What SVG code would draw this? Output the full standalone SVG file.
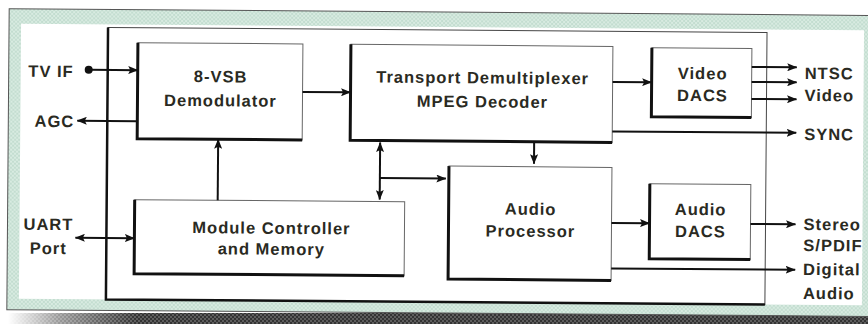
<svg xmlns="http://www.w3.org/2000/svg" width="868" height="324" viewBox="0 0 868 324">
  <defs>
    <pattern id="dither" width="4" height="4" patternUnits="userSpaceOnUse">
      <rect width="4" height="4" fill="#d8ebe1"/>
      <rect x="0" y="0" width="2" height="2" fill="#c3ddd0"/>
      <rect x="2" y="2" width="2" height="2" fill="#c3ddd0"/>
    </pattern>
    <pattern id="shadowdither" width="4" height="4" patternUnits="userSpaceOnUse">
      <rect width="4" height="4" fill="#5e5e5e"/>
      <rect x="0" y="0" width="2" height="2" fill="#333"/>
      <rect x="2" y="2" width="2" height="2" fill="#333"/>
    </pattern>
    <linearGradient id="fade" x1="0" y1="0" x2="1" y2="0">
      <stop offset="0" stop-color="#fff" stop-opacity="1"/>
      <stop offset="0.06" stop-color="#fff" stop-opacity="0.5"/>
      <stop offset="0.15" stop-color="#fff" stop-opacity="0"/>
    </linearGradient>
    <marker id="arr" viewBox="0 0 10 8" refX="9.5" refY="4" markerWidth="10" markerHeight="8" markerUnits="userSpaceOnUse" orient="auto-start-reverse">
      <path d="M0,0 L10,4 L0,8 L2,4 z" fill="#111"/>
    </marker>
  </defs>
  <style>
    .lbl { font-family: "Liberation Sans", Arial, sans-serif; font-weight: bold; font-size: 16.5px; letter-spacing: 1px; fill: #2a2a22; }
    .c { text-anchor: middle; }
    .e { text-anchor: end; }
    .box { fill: #fff; stroke: #666; stroke-width: 1; }
    .shade { fill: none; stroke: #111; stroke-width: 3; }
    .wire { fill: none; stroke: #111; stroke-width: 2; }
    .arrow { marker-end: url(#arr); }
    .both { marker-start: url(#arr); marker-end: url(#arr); }
  </style>

  <rect x="0" y="0" width="868" height="324" fill="#fff"/>
  <g id="shadow">
    <rect x="8" y="313" width="860" height="11" fill="url(#shadowdither)"/>
    <rect x="8" y="313" width="860" height="11" fill="url(#fade)"/>
  </g>

  <g transform="rotate(0.45 434 162)">
    <g id="frame">
      <rect x="8" y="12" width="864" height="301" fill="url(#dither)" stroke="#555" stroke-width="1"/>
      <rect x="20" y="27" width="843" height="275" fill="#fff"/>
    </g>

    <g id="module">
      <rect x="107" y="30" width="659" height="272" fill="#fff" stroke="#444" stroke-width="1"/>
      <polyline points="107,30 107,302 766,302" fill="none" stroke="#111" stroke-width="2.5"/>
    </g>

    <g id="demod">
      <rect class="box" x="137" y="45" width="165" height="96"/>
      <polyline class="shade" points="137,45 137,141 302,141"/>
      <text class="lbl c" x="220" y="84">8-VSB</text>
      <text class="lbl c" x="220" y="108">Demodulator</text>
    </g>

    <g id="transport">
      <rect class="box" x="350" y="45" width="262" height="96"/>
      <polyline class="shade" points="350,45 350,141 612,141"/>
      <text class="lbl c" x="482" y="83">Transport Demultiplexer</text>
      <text class="lbl c" x="482" y="107">MPEG Decoder</text>
    </g>

    <g id="videodacs">
      <rect class="box" x="651" y="46" width="100" height="69"/>
      <polyline class="shade" points="651,46 651,115 751,115"/>
      <text class="lbl c" x="702" y="77">Video</text>
      <text class="lbl c" x="702" y="99">DACS</text>
    </g>

    <g id="controller">
      <rect class="box" x="135" y="202" width="270" height="74"/>
      <polyline class="shade" points="135,202 135,276 405,276"/>
      <text class="lbl c" x="272" y="235">Module Controller</text>
      <text class="lbl c" x="272" y="256">and Memory</text>
    </g>

    <g id="audioproc">
      <rect class="box" x="449" y="166" width="163" height="113"/>
      <polyline class="shade" points="449,166 449,279 612,279"/>
      <text class="lbl c" x="531" y="214">Audio</text>
      <text class="lbl c" x="531" y="236">Processor</text>
    </g>

    <g id="audiodacs">
      <rect class="box" x="650" y="182" width="101" height="75"/>
      <polyline class="shade" points="650,182 650,257 751,257"/>
      <text class="lbl c" x="701" y="213">Audio</text>
      <text class="lbl c" x="701" y="235">DACS</text>
    </g>

    <g id="io-labels">
      <text class="lbl e" x="73" y="80">TV IF</text>
      <text class="lbl e" x="74" y="130">AGC</text>
      <text class="lbl c" x="49" y="233">UART</text>
      <text class="lbl c" x="49" y="257">Port</text>
      <text class="lbl" x="804" y="76">NTSC</text>
      <text class="lbl" x="804" y="98">Video</text>
      <text class="lbl" x="804" y="137">SYNC</text>
      <text class="lbl" x="804" y="227">Stereo</text>
      <text class="lbl" x="804" y="248">S/PDIF</text>
      <text class="lbl" x="804" y="272">Digital</text>
      <text class="lbl" x="804" y="296">Audio</text>
    </g>

    <g id="connectors">
      <circle cx="88" cy="72.5" r="4" fill="#111"/>
      <line class="wire arrow" x1="90" y1="72.5" x2="137" y2="72.5"/>
      <line class="wire arrow" x1="137" y1="123.5" x2="77" y2="123.5"/>
      <line class="wire arrow" x1="302" y1="93" x2="350" y2="93"/>
      <line class="wire arrow" x1="218" y1="202" x2="218" y2="141"/>
      <line class="wire arrow" x1="612" y1="80.5" x2="651" y2="80.5"/>
      <line class="wire arrow" x1="751" y1="64.5" x2="796" y2="64.5"/>
      <line class="wire arrow" x1="751" y1="79.5" x2="796" y2="79.5"/>
      <line class="wire arrow" x1="751" y1="96.5" x2="796" y2="96.5"/>
      <line class="wire arrow" x1="612" y1="130" x2="796" y2="130"/>
      <line class="wire arrow" x1="534" y1="141" x2="534" y2="163"/>
      <line class="wire both" x1="380" y1="143" x2="380" y2="200"/>
      <line class="wire arrow" x1="380" y1="178.5" x2="446" y2="178.5"/>
      <line class="wire both" x1="76" y1="240.5" x2="135" y2="240.5"/>
      <line class="wire arrow" x1="612" y1="221.5" x2="650" y2="221.5"/>
      <line class="wire arrow" x1="751" y1="221.5" x2="796" y2="221.5"/>
      <line class="wire arrow" x1="612" y1="267" x2="796" y2="267"/>
    </g>
  </g>
</svg>
